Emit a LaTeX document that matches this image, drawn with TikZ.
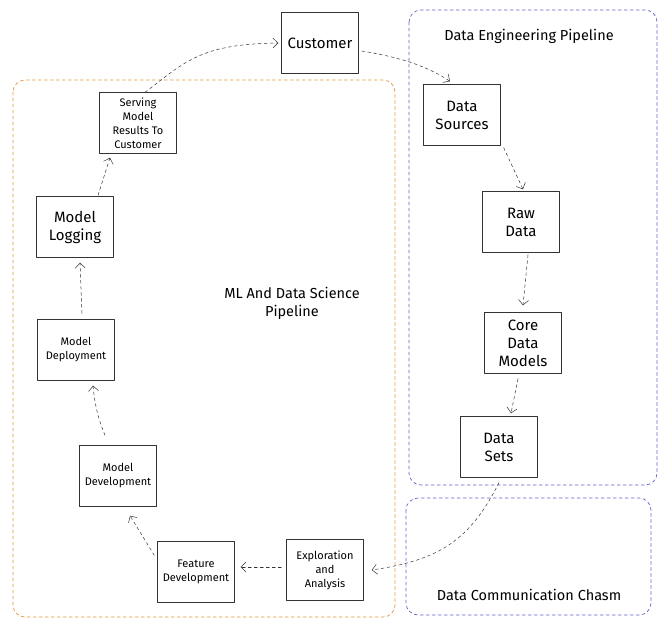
\documentclass[tikz,border=0pt]{standalone}
\usepackage{fontspec}
\setmainfont{Fira Sans}
\usetikzlibrary{arrows.meta}
\definecolor{mlorange}{RGB}{226,150,60}
\definecolor{deblue}{RGB}{95,100,200}
\begin{document}
\begin{tikzpicture}[x=1pt,y=-1pt,line cap=round,line join=round,>={Straight Barb[length=5pt,width=10pt]},
  box/.style={draw=black!80,fill=white,minimum width=77pt,minimum height=61pt,align=center,inner sep=1pt,font=\fontsize{15}{18}\selectfont},
  smallbox/.style={box,font=\fontsize{11}{14}\selectfont},
  flow/.style={->,dashed,black!80,line width=0.5pt},
  zone/.style={dashed,rounded corners=12pt,line width=0.7pt}]
\useasboundingbox (0,0) rectangle (660,629);
% pipelines
\draw[zone,mlorange] (13,80) rectangle (395,617);
\draw[zone,deblue] (409,10) rectangle (657,485);
\draw[zone,deblue] (406,498) rectangle (651,615);
\node[font=\fontsize{14.5}{17}\selectfont] (detitle) at (529,36) {Data Engineering Pipeline};
\node[font=\fontsize{14.5}{18}\selectfont,align=center] (mltitle) at (292,303) {ML And Data Science\\Pipeline};
\node[font=\fontsize{14.5}{17}\selectfont] (chasm) at (529,595) {Data Communication Chasm};
% boxes
\node[box] (cust) at (320,43) {Customer};
\node[box] (src) at (462,115) {Data\\Sources};
\node[box] (raw) at (521,222) {Raw\\Data};
\node[box] (core) at (523,343) {Core\\Data\\Models};
\node[box] (sets) at (499,447) {Data\\Sets};
\node[smallbox] (expl) at (325,570) {Exploration\\and\\Analysis};
\node[smallbox] (feat) at (196,572) {Feature\\Development};
\node[smallbox] (mdev) at (118,476) {Model\\Development};
\node[smallbox] (mdep) at (76,350) {Model\\Deployment};
\node[box] (mlog) at (75,227) {Model\\Logging};
\node[smallbox] (serve) at (138,123) {Serving\\Model\\Results To\\Customer};
% flow
\draw[flow] ([xshift=7pt]serve.north) .. controls (185,62) and (200,44) .. ([xshift=-3pt]cust.west);
\draw[flow] ([xshift=3pt,yshift=-8pt]cust.east) .. controls (405,58) and (430,68) .. ([xshift=-12pt,yshift=3pt]src.north);
\draw[flow] ([xshift=3pt,yshift=-2pt]src.south east) -- ([xshift=2pt,yshift=2pt]raw.north);
\draw[flow] ([xshift=7pt,yshift=-2pt]raw.south) -- ([yshift=7pt]core.north);
\draw[flow] ([xshift=-5pt,yshift=-5pt]core.south) -- ([xshift=12pt,yshift=3pt]sets.north);
\draw[flow] ([yshift=-5pt]sets.south) .. controls (470,540) and (440,560) .. ([xshift=8pt]expl.east);
\draw[flow] ([xshift=-5pt,yshift=3pt]expl.west) -- ([xshift=6pt,yshift=5pt]feat.east);
\draw[flow] ([xshift=-3pt,yshift=-14pt]feat.north west) -- ([xshift=12pt,yshift=-9pt]mdev.south);
\draw[flow] ([xshift=-13pt,yshift=10pt]mdev.north) to[bend left=8] ([xshift=17pt,yshift=-5pt]mdep.south);
\draw[flow] ([xshift=6pt,yshift=6pt]mdep.north) -- ([xshift=5pt,yshift=-5pt]mlog.south);
\draw[flow] ([xshift=23pt,yshift=1pt]mlog.north) -- ([xshift=-28pt,yshift=-4pt]serve.south);
\end{tikzpicture}
\end{document}
